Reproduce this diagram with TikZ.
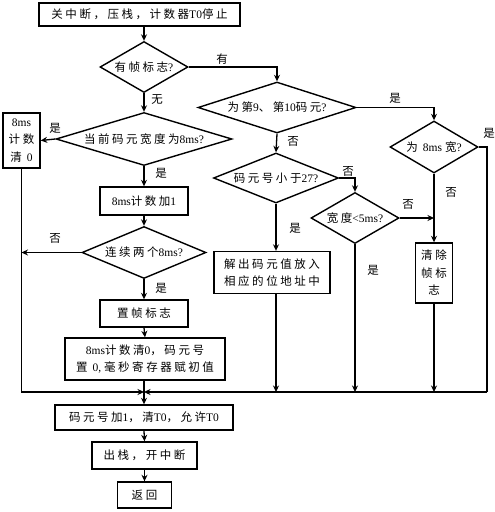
\documentclass[tikz,border=0pt]{standalone}
\usepackage{fontspec}
\setmainfont{Liberation Serif}
\newfontfamily\cjk[LetterSpace=22]{Noto Sans CJK SC}
\usetikzlibrary{shapes.geometric,arrows.meta}
\XeTeXinterchartokenstate=1
\newXeTeXintercharclass\cjkclass
\newcount\cjkcnt
\cjkcnt="4E00\relax
\loop\XeTeXcharclass\cjkcnt=\cjkclass\relax\advance\cjkcnt by 1\relax\ifnum\cjkcnt<"A000\relax\repeat
\cjkcnt="3000\relax
\loop\XeTeXcharclass\cjkcnt=\cjkclass\relax\advance\cjkcnt by 1\relax\ifnum\cjkcnt<"3040\relax\repeat
\cjkcnt="FF00\relax
\loop\XeTeXcharclass\cjkcnt=\cjkclass\relax\advance\cjkcnt by 1\relax\ifnum\cjkcnt<"FFF0\relax\repeat
\XeTeXinterchartoks 0 \cjkclass={\cjk}
\XeTeXinterchartoks 4095 \cjkclass={\cjk}
\XeTeXinterchartoks \cjkclass 0={\rmfamily}
\XeTeXinterchartoks 4095 0={\rmfamily}
\tikzset{
  base/.style={draw, line width=1.4pt, inner sep=0pt, align=center,
    font=\fontsize{11.5}{17.5}\selectfont},
  box/.style={base, rectangle},
  dia/.style={base, diamond},
  arr/.style={-{Stealth[length=6.5pt,width=6pt]}, line width=1.3pt},
  ln/.style={line width=1.3pt},
  lbl/.style={inner sep=0pt, font=\fontsize{11.5}{12}\selectfont}
}
\begin{document}
\begin{tikzpicture}[x=1pt,y=-1pt]
\useasboundingbox (0,0) rectangle (495,512);
% left column
\node[box, minimum width=201pt, minimum height=23pt] (b1) at (139.5,14.5) {关中断，压栈，计数器T0停止};
\node[dia, aspect=1.7, minimum width=88pt, minimum height=51pt] (d1) at (144,67) {有帧标志?};
\node[dia, aspect=3.3, minimum width=176pt, minimum height=53pt] (d3) at (144,139) {当前码元宽度为8ms?};
\node[box, minimum width=37pt, minimum height=55pt] (bx8) at (21.5,140.5) {8ms\\计数\\清 0};
\node[box, minimum width=88pt, minimum height=28pt] (b8add) at (144,201) {8ms计数加1};
\node[dia, aspect=2.4, minimum width=124pt, minimum height=52pt] (d5) at (144,252.5) {连续两个8ms?};
\node[box, minimum width=88pt, minimum height=27pt] (bset) at (144,313.5) {置帧标志};
\node[box, minimum width=160pt, minimum height=42pt] (bclr) at (145,359) {8ms计数清0，码元号\\置 0, 毫秒寄存器赋初值};
\node[box, minimum width=178pt, minimum height=25pt] (bnext) at (144,417.5) {码元号加1，清T0，允许T0};
\node[box, minimum width=105pt, minimum height=27pt] (bpop) at (144.5,455.5) {出栈，开中断};
\node[box, minimum width=54pt, minimum height=26pt] (bret) at (144.5,495) {返回};
% right part
\node[dia, aspect=3.1, minimum width=158pt, minimum height=51pt] (d2) at (277,107.5) {为第9、第10码元?};
\node[dia, aspect=1.7, minimum width=88pt, minimum height=52pt] (d4) at (434,147) {为 8ms 宽?};
\node[dia, aspect=2.5, minimum width=125pt, minimum height=50pt] (d6) at (276,178) {码元号小于27?};
\node[dia, aspect=1.7, minimum width=88pt, minimum height=51pt] (d7) at (355,218) {宽度<5ms?};
\node[box, minimum width=116pt, minimum height=42pt] (bdec) at (272,272.5) {解出码元值放入\\相应的位地址中};
\node[box, minimum width=37pt, minimum height=60pt] (bclf) at (434,273) {清除\\帧标\\志};
\coordinate (j) at (144,392);
\coordinate (rc) at (487,392);
% connectors
\draw[arr] (d1.north |- b1.south) -- (d1.north);
\draw[arr] (d1.east) -| (d2.north);
\draw[arr] (d1.south) -- (d3.north);
\draw[arr] (d3.west) -- (bx8.east);
\draw[arr] (d3.south) -- (b8add.north);
\draw[arr] (b8add.south) -- (d5.north);
\draw[arr] (d5.west) -- (d5.west -| bx8.south);
\draw[arr] (d5.south) -- (bset.north);
\draw[arr] (bset.south) -- (bclr.north);
\draw[ln] (bclr.south -| j) -- (j);
\draw[arr] (bx8.south) |- (j);
\draw[arr] (d2.east) -| (d4.north);
\draw[ln] (d4.east) -| (rc);
\draw[arr] (rc) -- (j);
\draw[arr] (d4.south) -- (bclf.north);
\draw[arr] (bclf.south) -- (bclf.south |- j);
\draw[arr] (d2.south) -- (d6.north);
\draw[arr] (d6.east) -| (d7.north);
\draw[arr] (d7.east) -- (d7.east -| bclf.north);
\draw[arr] (d7.south) -- (d7.south |- j);
\draw[arr] (d6.south) -- (d6.south |- bdec.north);
\draw[arr] (d6.south |- bdec.south) -- (d6.south |- j);
\draw[arr] (j) -- (bnext.north);
\draw[arr] (bnext.south) -- (bpop.north);
\draw[arr] (bpop.south) -- (bret.north);
% labels
\node[lbl] (l1) at (222,59) {有};
\node[lbl] (l2) at (157,100) {无};
\node[lbl] (l3) at (55,128) {是};
\node[lbl] (l4) at (161,173) {是};
\node[lbl] (l5) at (55,238) {否};
\node[lbl] (l6) at (161,288) {是};
\node[lbl] (l7) at (395,98) {是};
\node[lbl] (l8) at (489,133) {是};
\node[lbl] (l9) at (293,141) {否};
\node[lbl] (l10) at (348,171) {否};
\node[lbl] (l11) at (408,204) {否};
\node[lbl] (l12) at (295,228) {是};
\node[lbl] (l13) at (451,192) {否};
\node[lbl] (l14) at (373,270) {是};
\end{tikzpicture}
\end{document}
